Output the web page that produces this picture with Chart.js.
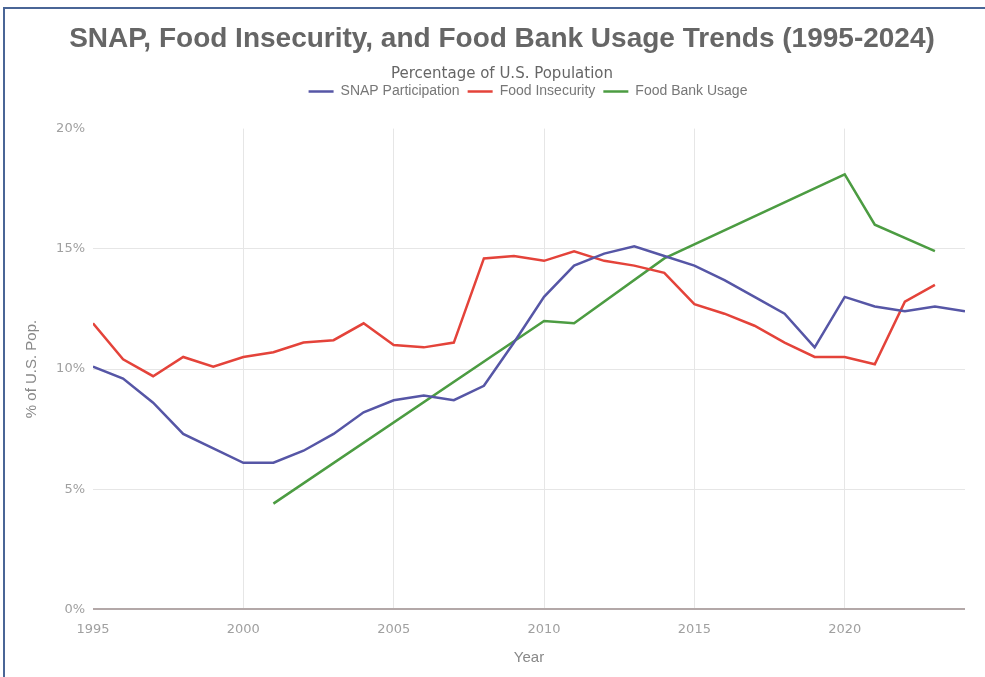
<!DOCTYPE html>
<html>
<head>
<meta charset="utf-8">
<script src="https://cdn.jsdelivr.net/npm/chart.js@4.4.1/dist/chart.umd.min.js"></script>
<style>
  html, body { margin: 0; padding: 0; background: #fff; }
  #wrap { position: relative; width: 985px; height: 677px; }
  #frame { position: absolute; left: 3px; top: 7px; right: -10px; bottom: -10px;
           border-left: 2px solid #4a6596; border-top: 2px solid #4a6596; pointer-events: none; }
</style>
</head>
<body>
<div id="wrap">
  <canvas id="myChart" width="985" height="677"></canvas>
  <div id="frame"></div>
</div>
<script>
// years on the x axis
const years = [1995, 1996, 1997, 1998, 1999, 2000, 2001, 2002, 2003, 2004,
               2005, 2006, 2007, 2008, 2009, 2010, 2011, 2012, 2013, 2014,
               2015, 2016, 2017, 2018, 2019, 2020, 2021, 2022, 2023, 2024];

// % of U.S. population
const snapParticipation = [10.1, 9.6, 8.6, 7.3, 6.7, 6.1, 6.1, 6.6, 7.3, 8.2,
                           8.7, 8.9, 8.7, 9.3, 11.1, 13.0, 14.3, 14.8, 15.1, 14.7,
                           14.3, 13.7, 13.0, 12.3, 10.9, 13.0, 12.6, 12.4, 12.6, 12.4];

const foodInsecurity = [11.9, 10.4, 9.7, 10.5, 10.1, 10.5, 10.7, 11.1, 11.2, 11.9,
                        11.0, 10.9, 11.1, 14.6, 14.7, 14.5, 14.9, 14.5, 14.3, 14.0,
                        12.7, 12.3, 11.8, 11.1, 10.5, 10.5, 10.2, 12.8, 13.5, null];

// only a few years reported, line joins them
const foodBankUsage = [null, null, null, null, null, null, 4.4, null, null, null,
                       null, null, null, null, null, 12.0, 11.9, null, null, 14.6,
                       null, null, null, null, null, 18.1, 16.0, null, 14.9, null];

const yTicks = [0, 5, 10, 15, 20];

const tickFont = { family: "'DejaVu Sans', sans-serif", size: 13 };
const textFont = "'Liberation Sans', Arial, sans-serif";

function line(label, data, color) {
  return {
    label: label,
    data: data,
    borderColor: color,
    backgroundColor: color,
    borderWidth: 2.5,
    pointRadius: 0,
    pointHoverRadius: 0,
    tension: 0,
    spanGaps: true
  };
}

// more room under the legend, and nudge the header blocks right
const headerTweaks = {
  id: 'headerTweaks',
  beforeInit(chart) {
    const fit = chart.legend.fit;
    chart.legend.fit = function () {
      fit.call(this);
      this.height += 20;
    };
  },
  afterLayout(chart) {
    chart.boxes.forEach(b => {
      if (b === chart.legend) {
        b.left += 36; b.right += 36;
      } else if (b.options && typeof b.options.text === 'string' && !b.axis) {
        b.left += 10; b.right += 10;
      }
    });
  }
};

const ctx = document.getElementById('myChart');

new Chart(ctx, {
  type: 'line',
  data: {
    labels: years,
    datasets: [
      line('SNAP Participation', snapParticipation, '#5656a6'),
      line('Food Insecurity', foodInsecurity, '#e4433a'),
      line('Food Bank Usage', foodBankUsage, '#4c9c42')
    ]
  },
  plugins: [headerTweaks],
  options: {
    responsive: false,
    animation: false,
    layout: { padding: { left: 19, right: 20, top: 0, bottom: 6 } },
    plugins: {
      title: {
        display: true,
        text: 'SNAP, Food Insecurity, and Food Bank Usage Trends (1995-2024)',
        color: '#666',
        font: { family: textFont, size: 28, weight: 'bold' },
        padding: { top: 22, bottom: 6 }
      },
      subtitle: {
        display: true,
        text: 'Percentage of U.S. Population',
        color: '#666',
        font: { family: "'DejaVu Sans', sans-serif", size: 15 },
        padding: { top: 4, bottom: -7 }
      },
      legend: {
        labels: {
          color: '#777',
          font: { family: textFont, size: 14 },
          usePointStyle: true,
          pointStyle: 'line',
          pointStyleWidth: 25,
          boxWidth: 25,
          padding: 8
        }
      },
      tooltip: { enabled: false }
    },
    scales: {
      x: {
        type: 'linear',
        min: 1995,
        max: 2024,
        ticks: {
          stepSize: 5,
          includeBounds: false,
          color: '#a0a0a0',
          font: tickFont,
          padding: 12,
          maxRotation: 0,
          callback: v => String(v)
        },
        grid: {
          drawTicks: false,
          color: c => c.index === 0 ? 'rgba(0,0,0,0)' : '#e6e6e6'
        },
        border: { display: false },
        title: {
          display: true,
          text: 'Year',
          color: '#888',
          font: { family: textFont, size: 15 },
          padding: { top: 0, bottom: 4 }
        }
      },
      y: {
        min: 0,
        max: 20,
        afterFit: s => { s.width = 74; },
        afterBuildTicks: s => { s.ticks = yTicks.map(v => ({ value: v })); },
        ticks: {
          color: '#a0a0a0',
          font: tickFont,
          padding: 8,
          callback: v => v + '%'
        },
        grid: {
          drawTicks: false,
          color: c => c.tick.value === 0 ? '#b3a8a8' : (c.tick.value === 20 ? 'rgba(0,0,0,0)' : '#e6e6e6'),
          lineWidth: c => c.tick.value === 0 ? 2 : 1
        },
        border: { display: false },
        title: {
          display: true,
          text: '% of U.S. Pop.',
          color: '#888',
          font: { family: textFont, size: 15 },
          padding: { top: 4, bottom: 4 }
        }
      }
    }
  }
});
</script>
</body>
</html>
